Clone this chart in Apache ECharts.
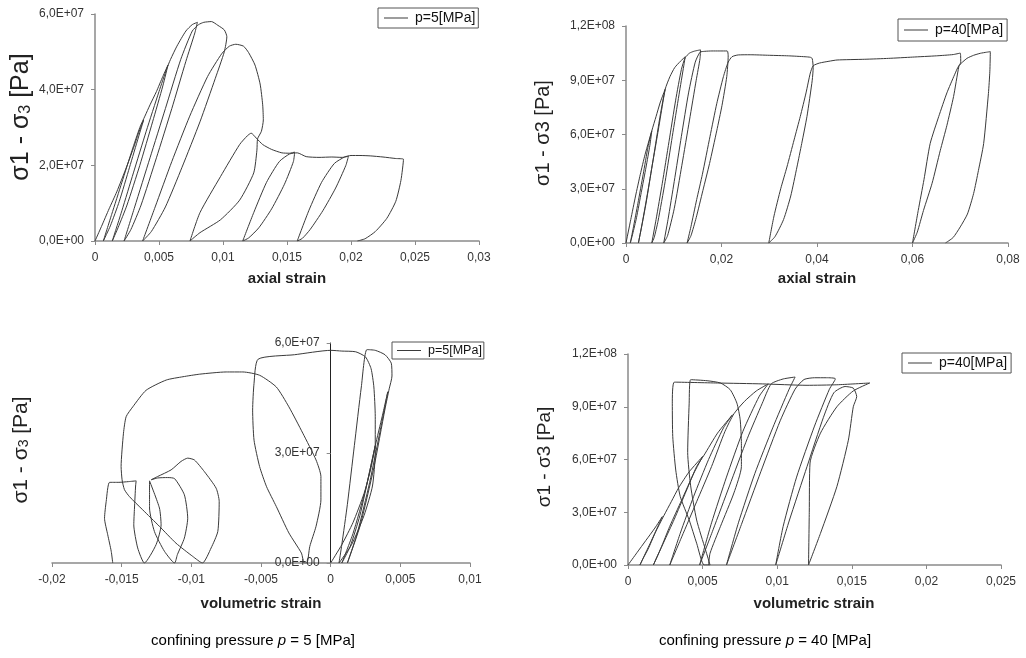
<!DOCTYPE html>
<html>
<head>
<meta charset="utf-8">
<script src="https://cdn.jsdelivr.net/npm/echarts@6/dist/echarts.min.js"></script>
<style>html,body{margin:0;padding:0;background:#fff}#c{width:1026px;height:658px}</style>
</head>
<body>
<div id="c"></div>
<script>
// ---- tick labels ----
const xTicks1 = ['0','0,005','0,01','0,015','0,02','0,025','0,03'];
const yTicks1 = ['0,0E+00','2,0E+07','4,0E+07','6,0E+07'];
const xTicks2 = ['0','0,02','0,04','0,06','0,08'];
const yTicks2 = ['0,0E+00','3,0E+07','6,0E+07','9,0E+07','1,2E+08'];
const xTicks3 = ['-0,02','-0,015','-0,01','-0,005','0','0,005','0,01'];
const yTicks3 = ['0,0E+00','3,0E+07','6,0E+07'];
const xTicks4 = ['0','0,005','0,01','0,015','0,02','0,025'];
const yTicks4 = ['0,0E+00','3,0E+07','6,0E+07','9,0E+07','1,2E+08'];

// ---- series names ----
const name5 = 'p=5[MPa]';
const name40 = 'p=40[MPa]';

// ---- p = 5 MPa : axial strain vs deviatoric stress [Pa] ----
const axial5 = [
[0,0],[0.0005,0.38e7],[0.0011,0.85e7],[0.0017,1.3e7],[0.0024,1.9e7],[0.003,2.45e7],[0.0034,2.85e7],[0.0038,3.2e7],
[0.0034,2.75e7],[0.0027,1.95e7],[0.0019,1.05e7],[0.0012,0.4e7],[0.00065,0],
[0.0013,0.7e7],[0.0021,1.55e7],[0.0029,2.4e7],[0.0035,3.0e7],[0.0039,3.3e7],
[0.0043,3.6e7],[0.0048,3.95e7],[0.0053,4.35e7],[0.0057,4.65e7],
[0.0053,4.1e7],[0.0045,3.15e7],[0.0035,2.0e7],[0.0025,0.95e7],[0.0018,0.35e7],[0.00135,0],
[0.0021,0.8e7],[0.003,1.8e7],[0.004,2.9e7],[0.005,3.95e7],[0.0056,4.55e7],[0.0059,4.8e7],
[0.0064,5.15e7],[0.0071,5.55e7],[0.0076,5.72e7],[0.0080,5.78e7],
[0.0078,5.5e7],[0.0071,4.75e7],[0.006,3.5e7],[0.0048,2.2e7],[0.0036,0.95e7],[0.0028,0.3e7],[0.00227,0],
[0.0031,0.9e7],[0.0043,2.2e7],[0.0055,3.5e7],[0.0067,4.8e7],[0.0076,5.55e7],[0.0081,5.72e7],
[0.0085,5.78e7],[0.0091,5.8e7],[0.0096,5.7e7],[0.0101,5.58e7],[0.0103,5.4e7],
[0.0101,5.0e7],[0.0094,4.3e7],[0.0082,3.15e7],[0.0068,1.95e7],[0.0055,0.9e7],[0.0044,0.25e7],[0.00372,0],
[0.0047,0.9e7],[0.006,2.1e7],[0.0074,3.3e7],[0.0088,4.35e7],[0.0099,4.95e7],[0.0105,5.15e7],[0.0110,5.2e7],
[0.0116,5.15e7],[0.0120,4.98e7],[0.0125,4.65e7],[0.0129,4.15e7],[0.0131,3.6e7],[0.01315,3.2e7],[0.0130,2.9e7],[0.0127,2.7e7],
[0.01265,2.4e7],[0.0124,1.8e7],[0.0113,1.08e7],[0.0098,0.56e7],[0.0082,0.22e7],[0.00742,0],
[0.0082,0.75e7],[0.0098,1.7e7],[0.0113,2.55e7],[0.0119,2.78e7],[0.0122,2.85e7],
[0.0126,2.72e7],[0.0131,2.55e7],[0.0138,2.42e7],[0.0146,2.33e7],[0.0152,2.32e7],[0.0156,2.35e7],
[0.0155,2.1e7],[0.0148,1.5e7],[0.0138,0.85e7],[0.0128,0.35e7],[0.012,0.08e7],[0.01154,0],
[0.0124,0.75e7],[0.0134,1.55e7],[0.0144,2.1e7],[0.0152,2.3e7],[0.0158,2.33e7],
[0.0165,2.23e7],[0.0175,2.21e7],[0.0185,2.22e7],[0.0193,2.21e7],[0.0198,2.24e7],
[0.0196,2.0e7],[0.0188,1.4e7],[0.0178,0.8e7],[0.0168,0.3e7],[0.0162,0.07e7],[0.0158,0],
[0.0167,0.8e7],[0.0177,1.55e7],[0.0187,2.05e7],[0.0195,2.22e7],[0.0200,2.26e7],
[0.0207,2.26e7],[0.0215,2.25e7],[0.0225,2.22e7],[0.0235,2.18e7],[0.0241,2.16e7],
[0.0239,1.6e7],[0.0235,1.05e7],[0.0228,0.6e7],[0.0219,0.25e7],[0.0211,0.06e7],[0.0205,0]
];

// ---- p = 40 MPa : axial strain vs deviatoric stress [Pa] ----
const axial40 = [
[0,0],[0.001,1.3e7],[0.002,2.6e7],[0.003,3.8e7],[0.004,4.9e7],[0.0054,6.2e7],
[0.005,5.4e7],[0.0042,4.2e7],[0.0032,2.8e7],[0.0022,1.4e7],[0.0014,0.5e7],[0.0009,0],
[0.0015,0.8e7],[0.0025,2.2e7],[0.0036,3.8e7],[0.0046,5.3e7],[0.0054,6.2e7],
[0.0063,7.0e7],[0.0072,7.8e7],[0.0082,8.5e7],
[0.0078,7.9e7],[0.0068,6.3e7],[0.0055,4.3e7],[0.0042,2.2e7],[0.0032,0.8e7],[0.0026,0],
[0.0034,1.1e7],[0.0046,2.9e7],[0.0058,4.8e7],[0.007,6.8e7],[0.0082,8.5e7],
[0.0092,9.2e7],[0.0102,9.7e7],[0.0114,1.005e8],[0.0124,1.03e8],
[0.0121,9.8e7],[0.0111,8.2e7],[0.0097,5.9e7],[0.0082,3.4e7],[0.0067,1.2e7],[0.0059,0.3e7],[0.0054,0],
[0.0063,1.3e7],[0.0076,3.3e7],[0.009,5.6e7],[0.0104,7.9e7],[0.0116,9.6e7],[0.0124,1.025e8],
[0.0133,1.05e8],[0.0142,1.06e8],[0.0150,1.065e8],[0.0156,1.068e8],
[0.0155,1.02e8],[0.0147,9.0e7],[0.0133,6.8e7],[0.0117,4.3e7],[0.0101,1.9e7],[0.0087,0.4e7],[0.0079,0],
[0.0088,1.3e7],[0.0101,3.4e7],[0.0116,5.9e7],[0.0131,8.3e7],[0.0145,1.0e8],[0.0155,1.055e8],
[0.0165,1.06e8],[0.018,1.062e8],[0.0195,1.062e8],[0.0212,1.062e8],
[0.0214,1.035e8],[0.0211,9.2e7],[0.0201,7.6e7],[0.019,6.2e7],[0.0175,4.4e7],[0.0161,2.9e7],[0.0147,1.4e7],[0.0136,0.4e7],[0.0128,0],
[0.0136,0.9e7],[0.0148,2.4e7],[0.016,3.8e7],[0.0176,5.9e7],[0.019,7.7e7],[0.0204,9.2e7],[0.0214,1.0e8],[0.0222,1.03e8],
[0.0235,1.04e8],[0.026,1.041e8],[0.03,1.038e8],[0.034,1.035e8],[0.0375,1.03e8],[0.0386,1.027e8],[0.039,1.02e8],
[0.0392,9.7e7],[0.039,9.0e7],[0.0379,7.0e7],[0.0368,5.5e7],[0.0358,4.2e7],[0.0345,2.6e7],[0.033,1.3e7],[0.0312,0.35e7],[0.0299,0],
[0.031,1.5e7],[0.0324,3.0e7],[0.0337,4.2e7],[0.0352,5.7e7],[0.0365,7.0e7],[0.0377,8.3e7],[0.0386,9.4e7],[0.0392,9.8e7],
[0.0405,9.95e7],[0.0425,1.005e8],[0.0442,1.012e8],[0.05,1.016e8],[0.055,1.021e8],[0.06,1.028e8],[0.065,1.035e8],[0.0685,1.042e8],[0.0700,1.05e8],
[0.0701,1.0e8],[0.0697,9.75e7],[0.0686,8.1e7],[0.0672,6.5e7],[0.0658,5.1e7],[0.0641,3.3e7],[0.0623,1.8e7],[0.061,0.6e7],[0.06,0],
[0.0612,1.8e7],[0.0624,3.5e7],[0.0637,5.5e7],[0.0655,7.0e7],[0.0672,8.3e7],[0.0688,9.3e7],[0.0697,9.8e7],
[0.0714,1.021e8],[0.0728,1.038e8],[0.0742,1.049e8],[0.0755,1.055e8],[0.0763,1.058e8],
[0.0762,9.5e7],[0.0759,8.27e7],[0.0749,5.5e7],[0.0738,4.0e7],[0.0728,2.74e7],[0.0715,1.6e7],[0.07,0.89e7],[0.0685,0.3e7],[0.0669,0]
];

// ---- p = 5 MPa : volumetric strain vs deviatoric stress [Pa] ----
const vol5 = [
[0,0],[0.0008,0.5e7],[0.0016,1.1e7],[0.0024,1.9e7],[0.0029,2.6e7],[0.0032,3.2e7],
[0.0028,2.5e7],[0.0021,1.3e7],[0.0014,0.45e7],[0.0008,0],
[0.0016,0.8e7],[0.0025,2.0e7],[0.0032,3.2e7],[0.0037,4.0e7],[0.0041,4.67e7],
[0.0036,3.7e7],[0.0028,2.2e7],[0.0019,0.8e7],[0.0012,0],
[0.0021,1.0e7],[0.0031,2.6e7],[0.0039,4.2e7],[0.0042,4.75e7],[0.0044,5.1e7],[0.00435,5.45e7],[0.0039,5.68e7],[0.0032,5.8e7],[0.0026,5.82e7],
[0.0022,4.8e7],[0.0017,3.2e7],[0.0012,1.6e7],[0.0008,0.5e7],[0.0006,0],
[0.0015,0.5e7],[0.0024,1.3e7],[0.003,2.1e7],[0.0032,3.0e7],[0.0032,4.0e7],[0.0031,4.8e7],[0.0029,5.3e7],[0.0025,5.62e7],[0.0018,5.76e7],[0.0008,5.78e7],[0,5.8e7],[-0.0026,5.68e7],[-0.0052,5.56e7],
[-0.0055,4.9e7],[-0.0056,4.17e7],[-0.0055,3.35e7],[-0.0051,2.63e7],[-0.0046,2.08e7],[-0.0039,1.54e7],[-0.003,0.82e7],[-0.0021,0.27e7],[-0.0019,0],
[-0.0017,0],[-0.0015,0.45e7],[-0.00105,1.0e7],[-0.0007,1.72e7],[-0.0007,2.36e7],[-0.00105,2.81e7],[-0.002,3.54e7],[-0.003,4.26e7],[-0.0039,4.8e7],[-0.0051,5.12e7],[-0.0063,5.21e7],
[-0.0075,5.21e7],[-0.0094,5.15e7],[-0.0106,5.08e7],[-0.0118,4.99e7],[-0.01325,4.71e7],[-0.0142,4.26e7],[-0.01468,3.99e7],[-0.01487,3.54e7],[-0.01504,2.63e7],[-0.01497,2.27e7],[-0.0148,2.0e7],[-0.01444,1.81e7],
[-0.01349,1.45e7],[-0.01229,1.0e7],[-0.0111,0.54e7],[-0.0099,0.18e7],[-0.0092,0],
[-0.00858,0.41e7],[-0.0081,0.86e7],[-0.008,1.68e7],[-0.00822,2.04e7],[-0.00906,2.49e7],[-0.00978,2.81e7],[-0.01026,2.86e7],[-0.01074,2.77e7],[-0.01145,2.54e7],[-0.01241,2.36e7],[-0.01288,2.27e7],
[-0.0124,2.32e7],[-0.0117,2.33e7],[-0.0112,2.3e7],[-0.0105,1.86e7],[-0.01026,1.22e7],[-0.0105,0.68e7],[-0.011,0.23e7],[-0.0112,0],
[-0.01193,0.32e7],[-0.01265,0.86e7],[-0.013,1.5e7],[-0.0130,2.24e7],
[-0.01229,1.5e7],[-0.01217,1.04e7],[-0.01253,0.5e7],[-0.01337,0],
[-0.01385,0.41e7],[-0.01413,1.04e7],[-0.01408,1.5e7],[-0.014,2.1e7],[-0.01396,2.24e7],
[-0.0145,2.22e7],[-0.0152,2.2e7],[-0.01587,2.2e7],
[-0.01611,1.68e7],[-0.01623,1.22e7],[-0.016,0.77e7],[-0.01575,0.32e7],[-0.01564,0]
];

// ---- p = 40 MPa : volumetric strain vs deviatoric stress [Pa] ----
const vol40 = [
[0,0],[0.0006,0.7e7],[0.0012,1.4e7],[0.0018,2.1e7],[0.0023,2.75e7],
[0.0019,2.0e7],[0.0014,1.0e7],[0.001,0.35e7],[0.0008,0],
[0.0013,0.9e7],[0.0018,1.8e7],[0.0024,2.8e7],
[0.0029,3.6e7],[0.0034,4.4e7],[0.0041,5.3e7],[0.005,6.17e7],
[0.0044,5.2e7],[0.0036,3.7e7],[0.0028,2.2e7],[0.0022,0.95e7],[0.0017,0],
[0.0024,1.3e7],[0.0031,2.6e7],[0.0039,4.2e7],[0.0046,5.6e7],[0.0051,6.25e7],
[0.006,7.5e7],[0.0070,8.54e7],
[0.0064,7.8e7],[0.0054,6.0e7],[0.0044,3.9e7],[0.0035,1.8e7],[0.0028,0],
[0.0036,1.6e7],[0.0046,3.6e7],[0.0056,5.6e7],[0.0065,7.6e7],[0.0071,8.6e7],
[0.0078,9.3e7],[0.0086,9.9e7],[0.0094,1.03e8],
[0.0088,9.6e7],[0.0077,7.6e7],[0.0066,5.0e7],[0.0056,2.4e7],[0.0048,0],
[0.0057,2.0e7],[0.0068,4.5e7],[0.008,7.2e7],[0.009,9.2e7],[0.0096,1.03e8],
[0.0104,1.058e8],[0.0112,1.069e8],
[0.0108,1.0e8],[0.0097,7.8e7],[0.0085,5.2e7],[0.0074,2.4e7],[0.0066,0],
[0.0076,2.3e7],[0.0089,5.3e7],[0.0102,8.2e7],[0.0112,1.0e8],[0.0118,1.055e8],
[0.0125,1.065e8],[0.0133,1.065e8],[0.0139,1.059e8],
[0.0135,1.0e8],[0.0125,7.9e7],[0.0113,5.0e7],[0.0104,2.2e7],[0.0099,0],
[0.0108,2.5e7],[0.012,5.6e7],[0.0131,8.4e7],[0.0138,9.8e7],[0.01455,1.015e8],[0.0151,1.006e8],
[0.01533,0.958e8],[0.0151,0.9e8],[0.01477,0.71e8],[0.014,0.446e8],[0.0129,0.18e8],[0.0121,0],
[0.01215,0.3e8],[0.0122,0.58e8],[0.0129,0.75e8],[0.014,0.9e8],[0.0151,0.99e8],[0.0162,1.035e8],
[0.014,1.025e8],[0.012,1.022e8],[0.009,1.03e8],[0.006,1.035e8],[0.0031,1.04e8],
[0.00297,0.92e8],[0.003,0.73e8],[0.0032,0.54e8],[0.0035,0.39e8],[0.0041,0.256e8],[0.0046,0.124e8],[0.0051,0],
[0.0055,0],[0.0052,0.085e8],[0.0046,0.256e8],[0.0042,0.45e8],[0.0040,0.64e8],[0.0041,0.92e8],[0.0042,1.054e8],
[0.0053,1.048e8],[0.0062,1.035e8],[0.00685,0.997e8],[0.0073,0.92e8],[0.00752,0.826e8],[0.0076,0.69e8],[0.0076,0.56e8],[0.0071,0.41e8],[0.0062,0.22e8],[0.0055,0.067e8],[0.0054,0]
];

const FONT = 'Liberation Sans, Arial, sans-serif';
const LINE = '#3a3a3a';
const AX = '#8a8a8a';

function lab(arr, min, step) {
  return function (v) {
    const i = Math.round((v - min) / step);
    return arr[i] !== undefined ? arr[i] : '';
  };
}
function xAx(gi, min, max, step, ticks) {
  return {
    type: 'value', gridIndex: gi, min: min, max: max, interval: step,
    axisLine: { show: true, onZero: false, lineStyle: { color: AX, width: 1.5 } },
    axisTick: { show: true, length: 4, lineStyle: { color: AX, width: 1 } },
    axisLabel: { formatter: lab(ticks, min, step), color: '#333', fontSize: 12, fontFamily: FONT, margin: 11 },
    splitLine: { show: false }
  };
}
function yAx(gi, min, max, step, ticks, color, offset) {
  return {
    type: 'value', gridIndex: gi, min: min, max: max, interval: step, offset: offset || 0,
    axisLine: { show: true, onZero: false, lineStyle: { color: color || AX, width: offset ? 1 : 1.5 } },
    axisTick: { show: true, length: 4, lineStyle: { color: AX, width: 1 } },
    axisLabel: { formatter: lab(ticks, min, step), color: '#333', fontSize: 12, fontFamily: FONT, margin: 11 },
    splitLine: { show: false }
  };
}
function ser(name, idx, data) {
  return {
    type: 'line', name: name, xAxisIndex: idx, yAxisIndex: idx, data: data,
    showSymbol: false, symbol: 'none', smooth: 0.2, animation: false,
    lineStyle: { color: LINE, width: 1 }, itemStyle: { color: LINE }
  };
}
function leg(name, left, top, fs, pad) {
  return {
    data: [{ name: name, icon: 'rect' }], left: left, top: top,
    itemWidth: 24, itemHeight: 1, itemGap: 4,
    borderColor: '#555', borderWidth: 1, padding: pad,
    textStyle: { fontSize: fs, color: '#111', fontFamily: FONT, padding: [0, 0, 0, 2] },
    selectedMode: false
  };
}
function ytitle(x, y, size, sub) {
  return {
    type: 'text', x: x, y: y, rotation: Math.PI / 2,
    style: {
      text: sub ? '{a|σ1 - σ}{b|3}{a| [Pa]}' : '{a|σ1 - σ3 [Pa]}',
      rich: {
        a: { fontSize: size, fontFamily: FONT, fill: '#222', color: '#222' },
        b: { fontSize: Math.round(size * 0.65), fontFamily: FONT, fill: '#222', color: '#222', padding: [Math.round(size * 0.35), 0, 0, 0] }
      },
      align: 'center', verticalAlign: 'middle', fill: '#222'
    }
  };
}
function xtitle(x, y, text) {
  return { type: 'text', x: x, y: y, style: { text: text, font: 'bold 15px ' + FONT, fill: '#222', align: 'center', verticalAlign: 'middle' } };
}
function caption(x, y, val) {
  return {
    type: 'text', x: x, y: y,
    style: {
      text: '{n|confining pressure }{i|p}{n| = ' + val + ' [MPa]}',
      rich: {
        n: { fontSize: 15, fontFamily: FONT, fill: '#000', color: '#000' },
        i: { fontSize: 15, fontFamily: FONT, fontStyle: 'italic', fill: '#000', color: '#000' }
      },
      align: 'center', verticalAlign: 'middle'
    }
  };
}

const G3 = { left: 52, top: 343, width: 418, height: 220 };
const zeroOffset3 = -G3.width * (0 - (-0.02)) / (0.01 - (-0.02));

const chart = echarts.init(document.getElementById('c'), null, { renderer: 'canvas' });
chart.setOption({
  animation: false,
  backgroundColor: '#fff',
  grid: [
    { left: 95, top: 14, width: 384, height: 227 },
    { left: 626, top: 26, width: 382, height: 217 },
    G3,
    { left: 628, top: 354, width: 373, height: 211 }
  ],
  xAxis: [
    xAx(0, 0, 0.03, 0.005, xTicks1),
    xAx(1, 0, 0.08, 0.02, xTicks2),
    xAx(2, -0.02, 0.01, 0.005, xTicks3),
    xAx(3, 0, 0.025, 0.005, xTicks4)
  ],
  yAxis: [
    yAx(0, 0, 6e7, 2e7, yTicks1),
    yAx(1, 0, 1.2e8, 3e7, yTicks2),
    yAx(2, 0, 6e7, 3e7, yTicks3, '#222', zeroOffset3),
    yAx(3, 0, 1.2e8, 3e7, yTicks4)
  ],
  legend: [
    leg(name5, 378, 8, 14, [3, 3, 3, 6]),
    leg(name40, 898, 19, 14, [4, 4, 4, 6]),
    leg(name5, 392, 342, 12.5, [2, 2, 2, 5]),
    leg(name40, 902, 353, 14, [3, 4, 3, 6])
  ],
  series: [
    ser(name5, 0, axial5),
    ser(name40, 1, axial40),
    ser(name5, 2, vol5),
    ser(name40, 3, vol40)
  ],
  graphic: [
    ytitle(21, 117, 25, true),
    ytitle(543, 133, 20, false),
    ytitle(21, 450, 21, true),
    ytitle(545, 457, 19, false),
    xtitle(287, 279, 'axial strain'),
    xtitle(817, 279, 'axial strain'),
    xtitle(261, 604, 'volumetric strain'),
    xtitle(814, 604, 'volumetric strain'),
    caption(253, 641, '5'),
    caption(765, 641, '40')
  ]
});
</script>
</body>
</html>
